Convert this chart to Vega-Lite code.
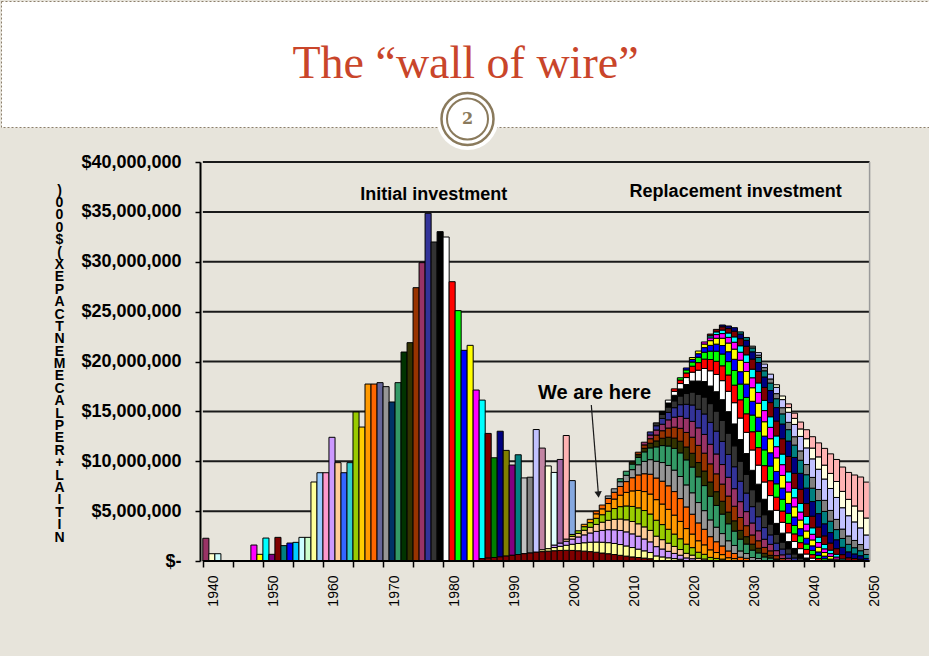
{
  "$schema": "https://vega.github.io/schema/vega-lite/v6.json",
  "background": "#E7E4DB",
  "padding": {"left": 0, "top": 0, "right": 0, "bottom": 60},
  "spacing": 2,
  "config": {"view": {"stroke": null}, "font": "Liberation Sans"},
  "datasets": {
    "head": [{"title": "The “wall of wire”", "num": "2"}],
    "grid": [{"g": 5}, {"g": 10}, {"g": 15}, {"g": 20}, {"g": 25}, {"g": 30}, {"g": 35}, {"g": 40}],
    "notes": [
      {"label": "Initial investment", "year": 1976.95, "v": 36.69},
      {"label": "Replacement investment", "year": 2027.2, "v": 36.99}
    ],
    "here": [{"label": "We are here", "year": 2003.7, "v": 16.84}],
    "arrow": [{"year": 2003.17, "v": 15.64, "year2": 2004.35, "v2": 6.7}],
    "tip": [{"year": 2004.35, "v": 6.66}],
    "bars": [
      {"year":1939,"s":0,"v":2.28},{"year":1940,"s":1,"v":0.73},{"year":1941,"s":2,"v":0.73},
      {"year":1947,"s":8,"v":1.6},{"year":1948,"s":9,"v":0.67},{"year":1949,"s":10,"v":2.3},{"year":1950,"s":11,"v":0.67},{"year":1951,"s":12,"v":2.37},{"year":1952,"s":13,"v":1.54},{"year":1953,"s":14,"v":1.8},{"year":1954,"s":15,"v":1.87},{"year":1955,"s":16,"v":2.37},{"year":1956,"s":17,"v":2.37},
      {"year":1957,"s":18,"v":7.92},{"year":1958,"s":19,"v":8.85},{"year":1959,"s":20,"v":8.85},{"year":1960,"s":21,"v":12.4},{"year":1961,"s":22,"v":9.86},{"year":1962,"s":23,"v":8.85},{"year":1963,"s":24,"v":9.86},{"year":1964,"s":25,"v":14.94},{"year":1965,"s":26,"v":13.43},{"year":1966,"s":27,"v":17.74},{"year":1967,"s":28,"v":17.74},{"year":1968,"s":29,"v":17.88},{"year":1969,"s":30,"v":17.48},{"year":1970,"s":31,"v":15.94},
      {"year":1971,"s":32,"v":17.88},{"year":1972,"s":33,"v":20.95},{"year":1973,"s":34,"v":21.89},{"year":1974,"s":35,"v":27.4},{"year":1975,"s":36,"v":29.91},{"year":1976,"s":37,"v":34.86},{"year":1977,"s":38,"v":31.98},{"year":1978,"s":39,"v":33.02},{"year":1979,"s":40,"v":32.48},{"year":1980,"s":41,"v":28.0},{"year":1981,"s":42,"v":25.1},{"year":1982,"s":43,"v":21.12},{"year":1983,"s":44,"v":21.62},{"year":1984,"s":45,"v":17.14},
      {"year":1985,"s":46,"v":15.9},{"year":1986,"s":47,"v":12.5},{"year":1987,"s":48,"v":10.0},{"year":1988,"s":49,"v":12.6},{"year":1989,"s":50,"v":10.6},{"year":1990,"s":51,"v":9.05},{"year":1991,"s":52,"v":10.0},{"year":1992,"s":53,"v":7.6},{"year":1993,"s":54,"v":7.6},{"year":1994,"s":55,"v":12.3},{"year":1995,"s":56,"v":10.2},{"year":1996,"s":57,"v":8.3},{"year":1997,"s":58,"v":7.3},{"year":1998,"s":59,"v":8.4},{"year":1999,"s":60,"v":10.4},{"year":2000,"s":61,"v":5.4},

      {"year":1985,"s":12,"v":0.23},{"year":1986,"s":12,"v":0.29},{"year":1987,"s":12,"v":0.35},{"year":1988,"s":12,"v":0.41},{"year":1989,"s":12,"v":0.49},{"year":1990,"s":12,"v":0.57},{"year":1991,"s":12,"v":0.65},{"year":1992,"s":12,"v":0.73},{"year":1993,"s":12,"v":0.8},{"year":1994,"s":12,"v":0.88},{"year":1995,"s":12,"v":0.94},{"year":1996,"s":12,"v":0.99},{"year":1997,"s":12,"v":1.03},{"year":1998,"s":12,"v":1.06},{"year":1999,"s":12,"v":1.07},{"year":2000,"s":12,"v":1.06},{"year":2001,"s":12,"v":1.03},{"year":2002,"s":12,"v":0.99},{"year":2003,"s":12,"v":0.94},{"year":2004,"s":12,"v":0.88},{"year":2005,"s":12,"v":0.8},{"year":2006,"s":12,"v":0.73},{"year":2007,"s":12,"v":0.65},{"year":2008,"s":12,"v":0.57},{"year":2009,"s":12,"v":0.49},{"year":2010,"s":12,"v":0.41},{"year":2011,"s":12,"v":0.35},{"year":2012,"s":12,"v":0.29},{"year":2013,"s":12,"v":0.23},

      {"year":1995,"s":18,"v":0.18},{"year":1996,"s":18,"v":0.24},{"year":1997,"s":18,"v":0.32},{"year":1998,"s":18,"v":0.41},{"year":1999,"s":18,"v":0.51},{"year":2000,"s":18,"v":0.62},{"year":2001,"s":18,"v":0.73},{"year":2002,"s":18,"v":0.84},{"year":2003,"s":18,"v":0.94},{"year":2004,"s":18,"v":1.02},{"year":2005,"s":18,"v":1.08},{"year":2006,"s":18,"v":1.11},{"year":2007,"s":18,"v":1.11},{"year":2008,"s":18,"v":1.08},{"year":2009,"s":18,"v":1.02},{"year":2010,"s":18,"v":0.94},{"year":2011,"s":18,"v":0.84},{"year":2012,"s":18,"v":0.73},{"year":2013,"s":18,"v":0.62},{"year":2014,"s":18,"v":0.51},{"year":2015,"s":18,"v":0.41},{"year":2016,"s":18,"v":0.32},{"year":2017,"s":18,"v":0.24},{"year":2018,"s":18,"v":0.18},

      {"year":1997,"s":21,"v":0.23},{"year":1998,"s":21,"v":0.31},{"year":1999,"s":21,"v":0.4},{"year":2000,"s":21,"v":0.52},{"year":2001,"s":21,"v":0.65},{"year":2002,"s":21,"v":0.79},{"year":2003,"s":21,"v":0.93},{"year":2004,"s":21,"v":1.07},{"year":2005,"s":21,"v":1.19},{"year":2006,"s":21,"v":1.3},{"year":2007,"s":21,"v":1.37},{"year":2008,"s":21,"v":1.41},{"year":2009,"s":21,"v":1.41},{"year":2010,"s":21,"v":1.37},{"year":2011,"s":21,"v":1.3},{"year":2012,"s":21,"v":1.19},{"year":2013,"s":21,"v":1.07},{"year":2014,"s":21,"v":0.93},{"year":2015,"s":21,"v":0.79},{"year":2016,"s":21,"v":0.65},{"year":2017,"s":21,"v":0.52},{"year":2018,"s":21,"v":0.4},{"year":2019,"s":21,"v":0.31},{"year":2020,"s":21,"v":0.23},

      {"year":1999,"s":22,"v":0.2},{"year":2000,"s":22,"v":0.27},{"year":2001,"s":22,"v":0.36},{"year":2002,"s":22,"v":0.46},{"year":2003,"s":22,"v":0.57},{"year":2004,"s":22,"v":0.7},{"year":2005,"s":22,"v":0.82},{"year":2006,"s":22,"v":0.94},{"year":2007,"s":22,"v":1.05},{"year":2008,"s":22,"v":1.15},{"year":2009,"s":22,"v":1.21},{"year":2010,"s":22,"v":1.24},{"year":2011,"s":22,"v":1.24},{"year":2012,"s":22,"v":1.21},{"year":2013,"s":22,"v":1.15},{"year":2014,"s":22,"v":1.05},{"year":2015,"s":22,"v":0.94},{"year":2016,"s":22,"v":0.82},{"year":2017,"s":22,"v":0.7},{"year":2018,"s":22,"v":0.57},{"year":2019,"s":22,"v":0.46},{"year":2020,"s":22,"v":0.36},{"year":2021,"s":22,"v":0.27},{"year":2022,"s":22,"v":0.2},

      {"year":2000,"s":25,"v":0.19},{"year":2001,"s":25,"v":0.26},{"year":2002,"s":25,"v":0.36},{"year":2003,"s":25,"v":0.47},{"year":2004,"s":25,"v":0.61},{"year":2005,"s":25,"v":0.75},{"year":2006,"s":25,"v":0.92},{"year":2007,"s":25,"v":1.08},{"year":2008,"s":25,"v":1.24},{"year":2009,"s":25,"v":1.39},{"year":2010,"s":25,"v":1.51},{"year":2011,"s":25,"v":1.6},{"year":2012,"s":25,"v":1.64},{"year":2013,"s":25,"v":1.64},{"year":2014,"s":25,"v":1.6},{"year":2015,"s":25,"v":1.51},{"year":2016,"s":25,"v":1.39},{"year":2017,"s":25,"v":1.24},{"year":2018,"s":25,"v":1.08},{"year":2019,"s":25,"v":0.92},{"year":2020,"s":25,"v":0.75},{"year":2021,"s":25,"v":0.61},{"year":2022,"s":25,"v":0.47},{"year":2023,"s":25,"v":0.36},{"year":2024,"s":25,"v":0.26},{"year":2025,"s":25,"v":0.19},

      {"year":2002,"s":27,"v":0.24},{"year":2003,"s":27,"v":0.33},{"year":2004,"s":27,"v":0.45},{"year":2005,"s":27,"v":0.59},{"year":2006,"s":27,"v":0.76},{"year":2007,"s":27,"v":0.95},{"year":2008,"s":27,"v":1.15},{"year":2009,"s":27,"v":1.36},{"year":2010,"s":27,"v":1.56},{"year":2011,"s":27,"v":1.74},{"year":2012,"s":27,"v":1.9},{"year":2013,"s":27,"v":2.0},{"year":2014,"s":27,"v":2.06},{"year":2015,"s":27,"v":2.06},{"year":2016,"s":27,"v":2.0},{"year":2017,"s":27,"v":1.9},{"year":2018,"s":27,"v":1.74},{"year":2019,"s":27,"v":1.56},{"year":2020,"s":27,"v":1.36},{"year":2021,"s":27,"v":1.15},{"year":2022,"s":27,"v":0.95},{"year":2023,"s":27,"v":0.76},{"year":2024,"s":27,"v":0.59},{"year":2025,"s":27,"v":0.45},{"year":2026,"s":27,"v":0.33},{"year":2027,"s":27,"v":0.24},

      {"year":2004,"s":28,"v":0.27},{"year":2005,"s":28,"v":0.38},{"year":2006,"s":28,"v":0.51},{"year":2007,"s":28,"v":0.68},{"year":2008,"s":28,"v":0.87},{"year":2009,"s":28,"v":1.08},{"year":2010,"s":28,"v":1.32},{"year":2011,"s":28,"v":1.56},{"year":2012,"s":28,"v":1.79},{"year":2013,"s":28,"v":1.99},{"year":2014,"s":28,"v":2.17},{"year":2015,"s":28,"v":2.29},{"year":2016,"s":28,"v":2.36},{"year":2017,"s":28,"v":2.36},{"year":2018,"s":28,"v":2.29},{"year":2019,"s":28,"v":2.17},{"year":2020,"s":28,"v":1.99},{"year":2021,"s":28,"v":1.79},{"year":2022,"s":28,"v":1.56},{"year":2023,"s":28,"v":1.32},{"year":2024,"s":28,"v":1.08},{"year":2025,"s":28,"v":0.87},{"year":2026,"s":28,"v":0.68},{"year":2027,"s":28,"v":0.51},{"year":2028,"s":28,"v":0.38},{"year":2029,"s":28,"v":0.27},

      {"year":2006,"s":30,"v":0.25},{"year":2007,"s":30,"v":0.35},{"year":2008,"s":30,"v":0.48},{"year":2009,"s":30,"v":0.63},{"year":2010,"s":30,"v":0.81},{"year":2011,"s":30,"v":1.02},{"year":2012,"s":30,"v":1.24},{"year":2013,"s":30,"v":1.46},{"year":2014,"s":30,"v":1.68},{"year":2015,"s":30,"v":1.87},{"year":2016,"s":30,"v":2.04},{"year":2017,"s":30,"v":2.15},{"year":2018,"s":30,"v":2.21},{"year":2019,"s":30,"v":2.21},{"year":2020,"s":30,"v":2.15},{"year":2021,"s":30,"v":2.04},{"year":2022,"s":30,"v":1.87},{"year":2023,"s":30,"v":1.68},{"year":2024,"s":30,"v":1.46},{"year":2025,"s":30,"v":1.24},{"year":2026,"s":30,"v":1.02},{"year":2027,"s":30,"v":0.81},{"year":2028,"s":30,"v":0.63},{"year":2029,"s":30,"v":0.48},{"year":2030,"s":30,"v":0.35},{"year":2031,"s":30,"v":0.25},

      {"year":2008,"s":32,"v":0.3},{"year":2009,"s":32,"v":0.41},{"year":2010,"s":32,"v":0.56},{"year":2011,"s":32,"v":0.74},{"year":2012,"s":32,"v":0.95},{"year":2013,"s":32,"v":1.18},{"year":2014,"s":32,"v":1.44},{"year":2015,"s":32,"v":1.7},{"year":2016,"s":32,"v":1.95},{"year":2017,"s":32,"v":2.18},{"year":2018,"s":32,"v":2.37},{"year":2019,"s":32,"v":2.51},{"year":2020,"s":32,"v":2.58},{"year":2021,"s":32,"v":2.58},{"year":2022,"s":32,"v":2.51},{"year":2023,"s":32,"v":2.37},{"year":2024,"s":32,"v":2.18},{"year":2025,"s":32,"v":1.95},{"year":2026,"s":32,"v":1.7},{"year":2027,"s":32,"v":1.44},{"year":2028,"s":32,"v":1.18},{"year":2029,"s":32,"v":0.95},{"year":2030,"s":32,"v":0.74},{"year":2031,"s":32,"v":0.56},{"year":2032,"s":32,"v":0.41},{"year":2033,"s":32,"v":0.3},

      {"year":2010,"s":34,"v":0.2},{"year":2011,"s":34,"v":0.27},{"year":2012,"s":34,"v":0.36},{"year":2013,"s":34,"v":0.47},{"year":2014,"s":34,"v":0.6},{"year":2015,"s":34,"v":0.74},{"year":2016,"s":34,"v":0.88},{"year":2017,"s":34,"v":1.03},{"year":2018,"s":34,"v":1.17},{"year":2019,"s":34,"v":1.29},{"year":2020,"s":34,"v":1.38},{"year":2021,"s":34,"v":1.43},{"year":2022,"s":34,"v":1.46},{"year":2023,"s":34,"v":1.43},{"year":2024,"s":34,"v":1.38},{"year":2025,"s":34,"v":1.29},{"year":2026,"s":34,"v":1.17},{"year":2027,"s":34,"v":1.03},{"year":2028,"s":34,"v":0.88},{"year":2029,"s":34,"v":0.74},{"year":2030,"s":34,"v":0.6},{"year":2031,"s":34,"v":0.47},{"year":2032,"s":34,"v":0.36},{"year":2033,"s":34,"v":0.27},{"year":2034,"s":34,"v":0.2},

      {"year":2011,"s":35,"v":0.25},{"year":2012,"s":35,"v":0.34},{"year":2013,"s":35,"v":0.45},{"year":2014,"s":35,"v":0.59},{"year":2015,"s":35,"v":0.75},{"year":2016,"s":35,"v":0.92},{"year":2017,"s":35,"v":1.1},{"year":2018,"s":35,"v":1.29},{"year":2019,"s":35,"v":1.46},{"year":2020,"s":35,"v":1.61},{"year":2021,"s":35,"v":1.72},{"year":2022,"s":35,"v":1.79},{"year":2023,"s":35,"v":1.82},{"year":2024,"s":35,"v":1.79},{"year":2025,"s":35,"v":1.72},{"year":2026,"s":35,"v":1.61},{"year":2027,"s":35,"v":1.46},{"year":2028,"s":35,"v":1.29},{"year":2029,"s":35,"v":1.1},{"year":2030,"s":35,"v":0.92},{"year":2031,"s":35,"v":0.75},{"year":2032,"s":35,"v":0.59},{"year":2033,"s":35,"v":0.45},{"year":2034,"s":35,"v":0.34},{"year":2035,"s":35,"v":0.25},

      {"year":2012,"s":36,"v":0.27},{"year":2013,"s":36,"v":0.37},{"year":2014,"s":36,"v":0.5},{"year":2015,"s":36,"v":0.65},{"year":2016,"s":36,"v":0.82},{"year":2017,"s":36,"v":1.0},{"year":2018,"s":36,"v":1.2},{"year":2019,"s":36,"v":1.41},{"year":2020,"s":36,"v":1.59},{"year":2021,"s":36,"v":1.76},{"year":2022,"s":36,"v":1.88},{"year":2023,"s":36,"v":1.96},{"year":2024,"s":36,"v":1.99},{"year":2025,"s":36,"v":1.96},{"year":2026,"s":36,"v":1.88},{"year":2027,"s":36,"v":1.76},{"year":2028,"s":36,"v":1.59},{"year":2029,"s":36,"v":1.41},{"year":2030,"s":36,"v":1.2},{"year":2031,"s":36,"v":1.0},{"year":2032,"s":36,"v":0.82},{"year":2033,"s":36,"v":0.65},{"year":2034,"s":36,"v":0.5},{"year":2035,"s":36,"v":0.37},{"year":2036,"s":36,"v":0.27},

      {"year":2013,"s":37,"v":0.31},{"year":2014,"s":37,"v":0.43},{"year":2015,"s":37,"v":0.58},{"year":2016,"s":37,"v":0.75},{"year":2017,"s":37,"v":0.95},{"year":2018,"s":37,"v":1.17},{"year":2019,"s":37,"v":1.41},{"year":2020,"s":37,"v":1.64},{"year":2021,"s":37,"v":1.86},{"year":2022,"s":37,"v":2.05},{"year":2023,"s":37,"v":2.2},{"year":2024,"s":37,"v":2.29},{"year":2025,"s":37,"v":2.32},{"year":2026,"s":37,"v":2.29},{"year":2027,"s":37,"v":2.2},{"year":2028,"s":37,"v":2.05},{"year":2029,"s":37,"v":1.86},{"year":2030,"s":37,"v":1.64},{"year":2031,"s":37,"v":1.41},{"year":2032,"s":37,"v":1.17},{"year":2033,"s":37,"v":0.95},{"year":2034,"s":37,"v":0.75},{"year":2035,"s":37,"v":0.58},{"year":2036,"s":37,"v":0.43},{"year":2037,"s":37,"v":0.31},

      {"year":2014,"s":38,"v":0.29},{"year":2015,"s":38,"v":0.4},{"year":2016,"s":38,"v":0.53},{"year":2017,"s":38,"v":0.69},{"year":2018,"s":38,"v":0.87},{"year":2019,"s":38,"v":1.08},{"year":2020,"s":38,"v":1.29},{"year":2021,"s":38,"v":1.5},{"year":2022,"s":38,"v":1.7},{"year":2023,"s":38,"v":1.88},{"year":2024,"s":38,"v":2.01},{"year":2025,"s":38,"v":2.1},{"year":2026,"s":38,"v":2.13},{"year":2027,"s":38,"v":2.1},{"year":2028,"s":38,"v":2.01},{"year":2029,"s":38,"v":1.88},{"year":2030,"s":38,"v":1.7},{"year":2031,"s":38,"v":1.5},{"year":2032,"s":38,"v":1.29},{"year":2033,"s":38,"v":1.08},{"year":2034,"s":38,"v":0.87},{"year":2035,"s":38,"v":0.69},{"year":2036,"s":38,"v":0.53},{"year":2037,"s":38,"v":0.4},{"year":2038,"s":38,"v":0.29},

      {"year":2015,"s":39,"v":0.3},{"year":2016,"s":39,"v":0.41},{"year":2017,"s":39,"v":0.55},{"year":2018,"s":39,"v":0.71},{"year":2019,"s":39,"v":0.9},{"year":2020,"s":39,"v":1.11},{"year":2021,"s":39,"v":1.33},{"year":2022,"s":39,"v":1.55},{"year":2023,"s":39,"v":1.76},{"year":2024,"s":39,"v":1.94},{"year":2025,"s":39,"v":2.08},{"year":2026,"s":39,"v":2.16},{"year":2027,"s":39,"v":2.19},{"year":2028,"s":39,"v":2.16},{"year":2029,"s":39,"v":2.08},{"year":2030,"s":39,"v":1.94},{"year":2031,"s":39,"v":1.76},{"year":2032,"s":39,"v":1.55},{"year":2033,"s":39,"v":1.33},{"year":2034,"s":39,"v":1.11},{"year":2035,"s":39,"v":0.9},{"year":2036,"s":39,"v":0.71},{"year":2037,"s":39,"v":0.55},{"year":2038,"s":39,"v":0.41},{"year":2039,"s":39,"v":0.3},

      {"year":2016,"s":40,"v":0.29},{"year":2017,"s":40,"v":0.4},{"year":2018,"s":40,"v":0.54},{"year":2019,"s":40,"v":0.7},{"year":2020,"s":40,"v":0.89},{"year":2021,"s":40,"v":1.09},{"year":2022,"s":40,"v":1.31},{"year":2023,"s":40,"v":1.53},{"year":2024,"s":40,"v":1.73},{"year":2025,"s":40,"v":1.91},{"year":2026,"s":40,"v":2.04},{"year":2027,"s":40,"v":2.13},{"year":2028,"s":40,"v":2.16},{"year":2029,"s":40,"v":2.13},{"year":2030,"s":40,"v":2.04},{"year":2031,"s":40,"v":1.91},{"year":2032,"s":40,"v":1.73},{"year":2033,"s":40,"v":1.53},{"year":2034,"s":40,"v":1.31},{"year":2035,"s":40,"v":1.09},{"year":2036,"s":40,"v":0.89},{"year":2037,"s":40,"v":0.7},{"year":2038,"s":40,"v":0.54},{"year":2039,"s":40,"v":0.4},{"year":2040,"s":40,"v":0.29},

      {"year":2017,"s":41,"v":0.25},{"year":2018,"s":41,"v":0.35},{"year":2019,"s":41,"v":0.46},{"year":2020,"s":41,"v":0.6},{"year":2021,"s":41,"v":0.76},{"year":2022,"s":41,"v":0.94},{"year":2023,"s":41,"v":1.13},{"year":2024,"s":41,"v":1.32},{"year":2025,"s":41,"v":1.49},{"year":2026,"s":41,"v":1.64},{"year":2027,"s":41,"v":1.76},{"year":2028,"s":41,"v":1.83},{"year":2029,"s":41,"v":1.86},{"year":2030,"s":41,"v":1.83},{"year":2031,"s":41,"v":1.76},{"year":2032,"s":41,"v":1.64},{"year":2033,"s":41,"v":1.49},{"year":2034,"s":41,"v":1.32},{"year":2035,"s":41,"v":1.13},{"year":2036,"s":41,"v":0.94},{"year":2037,"s":41,"v":0.76},{"year":2038,"s":41,"v":0.6},{"year":2039,"s":41,"v":0.46},{"year":2040,"s":41,"v":0.35},{"year":2041,"s":41,"v":0.25},

      {"year":2018,"s":42,"v":0.23},{"year":2019,"s":42,"v":0.31},{"year":2020,"s":42,"v":0.42},{"year":2021,"s":42,"v":0.54},{"year":2022,"s":42,"v":0.69},{"year":2023,"s":42,"v":0.84},{"year":2024,"s":42,"v":1.01},{"year":2025,"s":42,"v":1.18},{"year":2026,"s":42,"v":1.34},{"year":2027,"s":42,"v":1.47},{"year":2028,"s":42,"v":1.58},{"year":2029,"s":42,"v":1.64},{"year":2030,"s":42,"v":1.67},{"year":2031,"s":42,"v":1.64},{"year":2032,"s":42,"v":1.58},{"year":2033,"s":42,"v":1.47},{"year":2034,"s":42,"v":1.34},{"year":2035,"s":42,"v":1.18},{"year":2036,"s":42,"v":1.01},{"year":2037,"s":42,"v":0.84},{"year":2038,"s":42,"v":0.69},{"year":2039,"s":42,"v":0.54},{"year":2040,"s":42,"v":0.42},{"year":2041,"s":42,"v":0.31},{"year":2042,"s":42,"v":0.23},

      {"year":2019,"s":43,"v":0.19},{"year":2020,"s":43,"v":0.26},{"year":2021,"s":43,"v":0.35},{"year":2022,"s":43,"v":0.46},{"year":2023,"s":43,"v":0.58},{"year":2024,"s":43,"v":0.71},{"year":2025,"s":43,"v":0.85},{"year":2026,"s":43,"v":0.99},{"year":2027,"s":43,"v":1.12},{"year":2028,"s":43,"v":1.24},{"year":2029,"s":43,"v":1.33},{"year":2030,"s":43,"v":1.38},{"year":2031,"s":43,"v":1.4},{"year":2032,"s":43,"v":1.38},{"year":2033,"s":43,"v":1.33},{"year":2034,"s":43,"v":1.24},{"year":2035,"s":43,"v":1.12},{"year":2036,"s":43,"v":0.99},{"year":2037,"s":43,"v":0.85},{"year":2038,"s":43,"v":0.71},{"year":2039,"s":43,"v":0.58},{"year":2040,"s":43,"v":0.46},{"year":2041,"s":43,"v":0.35},{"year":2042,"s":43,"v":0.26},{"year":2043,"s":43,"v":0.19},

      {"year":2020,"s":44,"v":0.19},{"year":2021,"s":44,"v":0.27},{"year":2022,"s":44,"v":0.36},{"year":2023,"s":44,"v":0.47},{"year":2024,"s":44,"v":0.59},{"year":2025,"s":44,"v":0.73},{"year":2026,"s":44,"v":0.87},{"year":2027,"s":44,"v":1.02},{"year":2028,"s":44,"v":1.15},{"year":2029,"s":44,"v":1.27},{"year":2030,"s":44,"v":1.36},{"year":2031,"s":44,"v":1.41},{"year":2032,"s":44,"v":1.44},{"year":2033,"s":44,"v":1.41},{"year":2034,"s":44,"v":1.36},{"year":2035,"s":44,"v":1.27},{"year":2036,"s":44,"v":1.15},{"year":2037,"s":44,"v":1.02},{"year":2038,"s":44,"v":0.87},{"year":2039,"s":44,"v":0.73},{"year":2040,"s":44,"v":0.59},{"year":2041,"s":44,"v":0.47},{"year":2042,"s":44,"v":0.36},{"year":2043,"s":44,"v":0.27},{"year":2044,"s":44,"v":0.19},

      {"year":2022,"s":45,"v":0.21},{"year":2023,"s":45,"v":0.28},{"year":2024,"s":45,"v":0.37},{"year":2025,"s":45,"v":0.47},{"year":2026,"s":45,"v":0.57},{"year":2027,"s":45,"v":0.69},{"year":2028,"s":45,"v":0.8},{"year":2029,"s":45,"v":0.91},{"year":2030,"s":45,"v":1.0},{"year":2031,"s":45,"v":1.08},{"year":2032,"s":45,"v":1.12},{"year":2033,"s":45,"v":1.14},{"year":2034,"s":45,"v":1.12},{"year":2035,"s":45,"v":1.08},{"year":2036,"s":45,"v":1.0},{"year":2037,"s":45,"v":0.91},{"year":2038,"s":45,"v":0.8},{"year":2039,"s":45,"v":0.69},{"year":2040,"s":45,"v":0.57},{"year":2041,"s":45,"v":0.47},{"year":2042,"s":45,"v":0.37},{"year":2043,"s":45,"v":0.28},{"year":2044,"s":45,"v":0.21},

      {"year":2023,"s":46,"v":0.2},{"year":2024,"s":46,"v":0.27},{"year":2025,"s":46,"v":0.35},{"year":2026,"s":46,"v":0.44},{"year":2027,"s":46,"v":0.54},{"year":2028,"s":46,"v":0.65},{"year":2029,"s":46,"v":0.76},{"year":2030,"s":46,"v":0.86},{"year":2031,"s":46,"v":0.95},{"year":2032,"s":46,"v":1.02},{"year":2033,"s":46,"v":1.06},{"year":2034,"s":46,"v":1.08},{"year":2035,"s":46,"v":1.06},{"year":2036,"s":46,"v":1.02},{"year":2037,"s":46,"v":0.95},{"year":2038,"s":46,"v":0.86},{"year":2039,"s":46,"v":0.76},{"year":2040,"s":46,"v":0.65},{"year":2041,"s":46,"v":0.54},{"year":2042,"s":46,"v":0.44},{"year":2043,"s":46,"v":0.35},{"year":2044,"s":46,"v":0.27},{"year":2045,"s":46,"v":0.2},

      {"year":2023,"s":47,"v":0.18},{"year":2024,"s":47,"v":0.25},{"year":2025,"s":47,"v":0.33},{"year":2026,"s":47,"v":0.44},{"year":2027,"s":47,"v":0.57},{"year":2028,"s":47,"v":0.71},{"year":2029,"s":47,"v":0.86},{"year":2030,"s":47,"v":1.01},{"year":2031,"s":47,"v":1.16},{"year":2032,"s":47,"v":1.3},{"year":2033,"s":47,"v":1.42},{"year":2034,"s":47,"v":1.49},{"year":2035,"s":47,"v":1.54},{"year":2036,"s":47,"v":1.54},{"year":2037,"s":47,"v":1.49},{"year":2038,"s":47,"v":1.42},{"year":2039,"s":47,"v":1.3},{"year":2040,"s":47,"v":1.16},{"year":2041,"s":47,"v":1.01},{"year":2042,"s":47,"v":0.86},{"year":2043,"s":47,"v":0.71},{"year":2044,"s":47,"v":0.57},{"year":2045,"s":47,"v":0.44},{"year":2046,"s":47,"v":0.33},{"year":2047,"s":47,"v":0.25},{"year":2048,"s":47,"v":0.18},

      {"year":2025,"s":49,"v":0.18},{"year":2026,"s":49,"v":0.26},{"year":2027,"s":49,"v":0.35},{"year":2028,"s":49,"v":0.46},{"year":2029,"s":49,"v":0.59},{"year":2030,"s":49,"v":0.73},{"year":2031,"s":49,"v":0.89},{"year":2032,"s":49,"v":1.05},{"year":2033,"s":49,"v":1.21},{"year":2034,"s":49,"v":1.35},{"year":2035,"s":49,"v":1.47},{"year":2036,"s":49,"v":1.55},{"year":2037,"s":49,"v":1.6},{"year":2038,"s":49,"v":1.6},{"year":2039,"s":49,"v":1.55},{"year":2040,"s":49,"v":1.47},{"year":2041,"s":49,"v":1.35},{"year":2042,"s":49,"v":1.21},{"year":2043,"s":49,"v":1.05},{"year":2044,"s":49,"v":0.89},{"year":2045,"s":49,"v":0.73},{"year":2046,"s":49,"v":0.59},{"year":2047,"s":49,"v":0.46},{"year":2048,"s":49,"v":0.35},{"year":2049,"s":49,"v":0.26},

      {"year":2028,"s":52,"v":0.22},{"year":2029,"s":52,"v":0.29},{"year":2030,"s":52,"v":0.39},{"year":2031,"s":52,"v":0.5},{"year":2032,"s":52,"v":0.62},{"year":2033,"s":52,"v":0.75},{"year":2034,"s":52,"v":0.89},{"year":2035,"s":52,"v":1.02},{"year":2036,"s":52,"v":1.14},{"year":2037,"s":52,"v":1.24},{"year":2038,"s":52,"v":1.31},{"year":2039,"s":52,"v":1.34},{"year":2040,"s":52,"v":1.34},{"year":2041,"s":52,"v":1.31},{"year":2042,"s":52,"v":1.24},{"year":2043,"s":52,"v":1.14},{"year":2044,"s":52,"v":1.02},{"year":2045,"s":52,"v":0.89},{"year":2046,"s":52,"v":0.75},{"year":2047,"s":52,"v":0.62},{"year":2048,"s":52,"v":0.5},{"year":2049,"s":52,"v":0.39},

      {"year":2030,"s":54,"v":0.18},{"year":2031,"s":54,"v":0.24},{"year":2032,"s":54,"v":0.32},{"year":2033,"s":54,"v":0.41},{"year":2034,"s":54,"v":0.51},{"year":2035,"s":54,"v":0.62},{"year":2036,"s":54,"v":0.73},{"year":2037,"s":54,"v":0.84},{"year":2038,"s":54,"v":0.94},{"year":2039,"s":54,"v":1.02},{"year":2040,"s":54,"v":1.08},{"year":2041,"s":54,"v":1.11},{"year":2042,"s":54,"v":1.11},{"year":2043,"s":54,"v":1.08},{"year":2044,"s":54,"v":1.02},{"year":2045,"s":54,"v":0.94},{"year":2046,"s":54,"v":0.84},{"year":2047,"s":54,"v":0.73},{"year":2048,"s":54,"v":0.62},{"year":2049,"s":54,"v":0.51},

      {"year":2031,"s":55,"v":0.25},{"year":2032,"s":55,"v":0.35},{"year":2033,"s":55,"v":0.48},{"year":2034,"s":55,"v":0.63},{"year":2035,"s":55,"v":0.81},{"year":2036,"s":55,"v":1.01},{"year":2037,"s":55,"v":1.23},{"year":2038,"s":55,"v":1.45},{"year":2039,"s":55,"v":1.67},{"year":2040,"s":55,"v":1.86},{"year":2041,"s":55,"v":2.03},{"year":2042,"s":55,"v":2.14},{"year":2043,"s":55,"v":2.2},{"year":2044,"s":55,"v":2.2},{"year":2045,"s":55,"v":2.14},{"year":2046,"s":55,"v":2.03},{"year":2047,"s":55,"v":1.86},{"year":2048,"s":55,"v":1.67},{"year":2049,"s":55,"v":1.45},

      {"year":2034,"s":57,"v":0.26},{"year":2035,"s":57,"v":0.36},{"year":2036,"s":57,"v":0.47},{"year":2037,"s":57,"v":0.61},{"year":2038,"s":57,"v":0.75},{"year":2039,"s":57,"v":0.92},{"year":2040,"s":57,"v":1.08},{"year":2041,"s":57,"v":1.24},{"year":2042,"s":57,"v":1.39},{"year":2043,"s":57,"v":1.51},{"year":2044,"s":57,"v":1.6},{"year":2045,"s":57,"v":1.64},{"year":2046,"s":57,"v":1.64},{"year":2047,"s":57,"v":1.6},{"year":2048,"s":57,"v":1.7},{"year":2049,"s":57,"v":1.7},

      {"year":2036,"s":60,"v":0.37},{"year":2037,"s":60,"v":0.52},{"year":2038,"s":60,"v":0.69},{"year":2039,"s":60,"v":0.9},{"year":2040,"s":60,"v":1.14},{"year":2041,"s":60,"v":1.4},{"year":2042,"s":60,"v":1.68},{"year":2043,"s":60,"v":1.96},{"year":2044,"s":60,"v":2.21},{"year":2045,"s":60,"v":2.44},{"year":2046,"s":60,"v":2.7},{"year":2047,"s":60,"v":3.1},{"year":2048,"s":60,"v":3.4},{"year":2049,"s":60,"v":3.6}
    ]
  },
  "vconcat": [
    {
      "width": 929,
      "height": 126,
      "view": {"fill": "white", "stroke": "#8C7F6B", "strokeDash": [2, 2], "strokeWidth": 1},
      "data": {"name": "head"},
      "layer": [
        {"mark": {"type": "point", "shape": "circle", "filled": true, "color": "white", "opacity": 1, "size": 3844, "strokeWidth": 0, "xOffset": 2, "yOffset": 55}, "encoding": {}},
        {"mark": {"type": "point", "shape": "circle", "filled": false, "color": "#8A7A5C", "strokeWidth": 2.5, "opacity": 1, "size": 2704, "xOffset": 2, "yOffset": 55}, "encoding": {}},
        {"mark": {"type": "point", "shape": "circle", "filled": false, "color": "#8A7A5C", "strokeWidth": 2, "opacity": 1, "size": 1681, "xOffset": 2, "yOffset": 55}, "encoding": {}},
        {"mark": {"type": "text", "font": "DejaVu Serif", "fontSize": 16, "fontWeight": "bold", "color": "#8A7A5C", "baseline": "middle", "dx": 2, "dy": 55}, "encoding": {"text": {"field": "num"}}},
        {"mark": {"type": "text", "font": "Liberation Serif", "fontSize": 46, "color": "#C9452A", "baseline": "alphabetic", "dy": 14}, "encoding": {"text": {"field": "title"}}}
      ]
    },
    {
      "width": 929,
      "height": 399,
      "view": {"stroke": null},
      "layer": [
        {
          "data": {"name": "grid"},
          "mark": {"type": "rule", "color": "#1a1a1a", "strokeWidth": 2},
          "encoding": {
            "x": {"datum": 1938.5, "type": "quantitative", "scale": {"domain": [1905.727, 2058.724], "nice": false, "zero": false}},
            "x2": {"datum": 2049.5},
            "y": {"field": "g", "type": "quantitative", "scale": {"domain": [0, 40], "nice": false}}
          }
        },
        {
          "data": {"name": "bars"},
          "mark": {"type": "bar", "orient": "vertical", "width": 6.07, "stroke": "black", "strokeWidth": 1},
          "encoding": {
            "x": {
              "field": "year", "type": "quantitative",
              "scale": {"domain": [1905.727, 2058.724], "nice": false, "zero": false},
              "axis": {
                "values": [1938.5, 1943.5, 1948.5, 1953.5, 1958.5, 1963.5, 1968.5, 1973.5, 1978.5, 1983.5, 1988.5, 1993.5, 1998.5, 2003.5, 2008.5, 2013.5, 2018.5, 2023.5, 2028.5, 2033.5, 2038.5, 2043.5, 2048.5],
                "labelExpr": "(datum.value - 1938.5) % 10 == 0 ? toString(datum.value + 1.5) : ''",
                "labelAngle": 270, "labelOffset": 11, "labelFont": "Liberation Sans", "labelFontSize": 14,
                "labelColor": "black", "labelPadding": 8, "labelOverlap": false, "labelFlush": false,
                "tickSize": 6, "tickColor": "black", "tickWidth": 1.5,
                "domain": false, "grid": false, "title": null
              }
            },
            "y": {
              "field": "v", "type": "quantitative", "stack": "zero",
              "scale": {"domain": [0, 40], "nice": false},
              "axis": {
                "offset": -199,
                "values": [0, 5, 10, 15, 20, 25, 30, 35, 40],
                "labelExpr": "datum.value == 0 ? '$-\u00a0\u00a0\u00a0' : '$' + format(datum.value * 1000000, ',')",
                "labelFont": "Liberation Sans", "labelFontWeight": "bold", "labelFontSize": 18, "labelColor": "black",
                "labelPadding": 14, "tickSize": 5, "tickColor": "black", "tickWidth": 1.5,
                "domainColor": "black", "domainWidth": 2, "grid": false,
                "title": [")", "0", "0", "0", "$", "(", "X", "E", "P", "A", "C", "T", "N", "E", "M", "E", "C", "A", "L", "P", "E", "R", "+", "L", "A", "I", "T", "I", "N"],
                "titleAngle": 0, "titleFont": "Liberation Sans", "titleFontWeight": "bold", "titleFontSize": 14,
                "titleLineHeight": 12.4, "titleX": -141, "titleY": 21, "titleAlign": "center", "titleBaseline": "top", "titleColor": "black"
              }
            },
            "color": {
              "field": "s", "type": "nominal", "legend": null,
              "scale": {
                "domain": [0,1,2,3,4,5,6,7,8,9,10,11,12,13,14,15,16,17,18,19,20,21,22,23,24,25,26,27,28,29,30,31,32,33,34,35,36,37,38,39,40,41,42,43,44,45,46,47,48,49,50,51,52,53,54,55,56,57,58,59,60,61],
                "range": ["#993366","#FFFFCC","#CCFFFF","#660066","#FF8080","#0066CC","#CCCCFF","#000080","#FF00FF","#FFFF00","#00FFFF","#800080","#800000","#008080","#0000FF","#00CCFF","#CCFFFF","#CCFFCC","#FFFF99","#99CCFF","#FF99CC","#CC99FF","#FFCC99","#3366FF","#33CCCC","#99CC00","#FFCC00","#FF9900","#FF6600","#666699","#969696","#003366","#339966","#003300","#333300","#993300","#993366","#333399","#333333","#000000","#FFFFFF","#FF0000","#00FF00","#0000FF","#FFFF00","#FF00FF","#00FFFF","#800000","#008000","#000080","#808000","#800080","#008080","#C0C0C0","#808080","#C2C2FF","#C285A3","#FFFFE0","#E0FFFF","#A366A3","#FFB3B3","#85A8E0"]
              }
            },
            "order": {"field": "s", "type": "quantitative"}
          }
        },
        {
          "data": {"values": [{}]},
          "mark": {"type": "rule", "color": "#9A9A9A", "strokeWidth": 1.5},
          "encoding": {
            "x": {"datum": 2049.5, "type": "quantitative", "scale": {"domain": [1905.727, 2058.724], "nice": false, "zero": false}},
            "y": {"datum": 0, "type": "quantitative", "scale": {"domain": [0, 40], "nice": false}},
            "y2": {"datum": 40}
          }
        },
        {
          "data": {"values": [{}]},
          "mark": {"type": "rule", "color": "black", "strokeWidth": 2},
          "encoding": {
            "x": {"datum": 1938.5, "type": "quantitative", "scale": {"domain": [1905.727, 2058.724], "nice": false, "zero": false}},
            "x2": {"datum": 2049.5},
            "y": {"datum": 0, "type": "quantitative", "scale": {"domain": [0, 40], "nice": false}}
          }
        },
        {
          "data": {"name": "notes"},
          "mark": {"type": "text", "font": "Liberation Sans", "fontSize": 18, "fontWeight": "bold", "color": "black", "baseline": "middle"},
          "encoding": {
            "x": {"field": "year", "type": "quantitative", "scale": {"domain": [1905.727, 2058.724], "nice": false, "zero": false}},
            "y": {"field": "v", "type": "quantitative", "scale": {"domain": [0, 40], "nice": false}},
            "text": {"field": "label"}
          }
        },
        {
          "data": {"name": "here"},
          "mark": {"type": "text", "font": "Liberation Sans", "fontSize": 20, "fontWeight": "bold", "color": "black", "baseline": "middle"},
          "encoding": {
            "x": {"field": "year", "type": "quantitative", "scale": {"domain": [1905.727, 2058.724], "nice": false, "zero": false}},
            "y": {"field": "v", "type": "quantitative", "scale": {"domain": [0, 40], "nice": false}},
            "text": {"field": "label"}
          }
        },
        {
          "data": {"name": "arrow"},
          "mark": {"type": "rule", "color": "#1a1a1a", "strokeWidth": 1.2},
          "encoding": {
            "x": {"field": "year", "type": "quantitative", "scale": {"domain": [1905.727, 2058.724], "nice": false, "zero": false}},
            "x2": {"field": "year2"},
            "y": {"field": "v", "type": "quantitative", "scale": {"domain": [0, 40], "nice": false}},
            "y2": {"field": "v2"}
          }
        },
        {
          "data": {"name": "tip"},
          "mark": {"type": "point", "shape": "triangle-down", "filled": true, "color": "#1a1a1a", "opacity": 1, "size": 55, "angle": -5},
          "encoding": {
            "x": {"field": "year", "type": "quantitative", "scale": {"domain": [1905.727, 2058.724], "nice": false, "zero": false}},
            "y": {"field": "v", "type": "quantitative", "scale": {"domain": [0, 40], "nice": false}}
          }
        }
      ]
    }
  ]
}
